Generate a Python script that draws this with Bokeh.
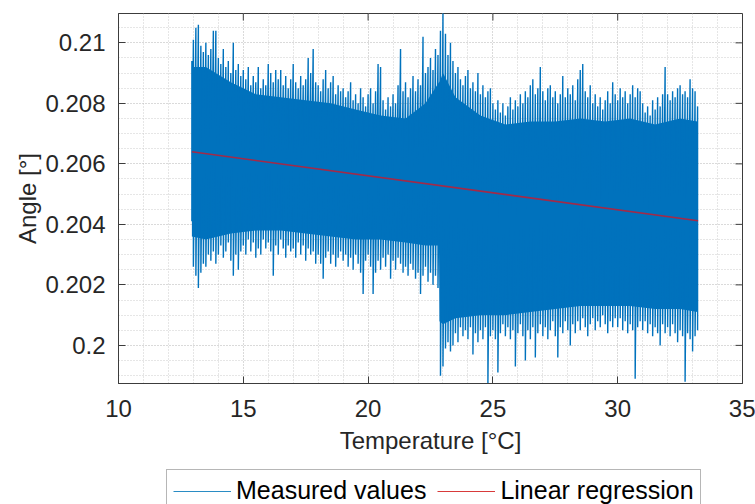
from bokeh.plotting import figure
from bokeh.layouts import column
from bokeh.models import (Range1d, Legend, LegendItem, FixedTicker,
                          NumeralTickFormatter, ColumnDataSource)
from bokeh.embed import file_html
from bokeh.resources import INLINE

# ---------------- data ----------------
temperature = [12.94,
    13.0, 13.1, 13.2, 13.3, 13.4, 13.5, 13.6, 13.7, 13.8, 13.9,
    14.0, 14.1, 14.2, 14.3, 14.4, 14.5, 14.6, 14.7, 14.8, 14.9,
    15.0, 15.1, 15.2, 15.3, 15.4, 15.5, 15.6, 15.7, 15.8, 15.9,
    16.0, 16.1, 16.2, 16.3, 16.4, 16.5, 16.6, 16.7, 16.8, 16.9,
    17.0, 17.1, 17.2, 17.3, 17.4, 17.5, 17.6, 17.7, 17.8, 17.9,
    18.0, 18.1, 18.2, 18.3, 18.4, 18.5, 18.6, 18.7, 18.8, 18.9,
    19.0, 19.1, 19.2, 19.3, 19.4, 19.5, 19.6, 19.7, 19.8, 19.9,
    20.0, 20.1, 20.2, 20.3, 20.4, 20.5, 20.6, 20.7, 20.8, 20.9,
    21.0, 21.1, 21.2, 21.3, 21.4, 21.5, 21.6, 21.7, 21.8, 21.9,
    22.0, 22.1, 22.2, 22.3, 22.4, 22.5, 22.6, 22.7, 22.8, 22.9,
    23.0, 23.1, 23.2, 23.3, 23.4, 23.5, 23.6, 23.7, 23.8, 23.9,
    24.0, 24.1, 24.2, 24.3, 24.4, 24.5, 24.6, 24.7, 24.8, 24.9,
    25.0, 25.1, 25.2, 25.3, 25.4, 25.5, 25.6, 25.7, 25.8, 25.9,
    26.0, 26.1, 26.2, 26.3, 26.4, 26.5, 26.6, 26.7, 26.8, 26.9,
    27.0, 27.1, 27.2, 27.3, 27.4, 27.5, 27.6, 27.7, 27.8, 27.9,
    28.0, 28.1, 28.2, 28.3, 28.4, 28.5, 28.6, 28.7, 28.8, 28.9,
    29.0, 29.1, 29.2, 29.3, 29.4, 29.5, 29.6, 29.7, 29.8, 29.9,
    30.0, 30.1, 30.2, 30.3, 30.4, 30.5, 30.6, 30.7, 30.8, 30.9,
    31.0, 31.1, 31.2, 31.3, 31.4, 31.5, 31.6, 31.7, 31.8, 31.9,
    32.0, 32.1, 32.2, 32.3, 32.4, 32.5, 32.6, 32.7, 32.8, 32.9,
    33.0, 33.1, 33.2]

# upper tips of the measured signal (deg)
angle_max = [0.2094,
    0.2101, 0.2105, 0.2106, 0.2099, 0.2097, 0.2100, 0.2096, 0.2098, 0.2104, 0.2104,
    0.2095, 0.2093, 0.2098, 0.2092, 0.2094, 0.2090, 0.2100, 0.2091, 0.2093, 0.2089,
    0.2091, 0.2088, 0.2092, 0.2086, 0.2089, 0.2087, 0.2092, 0.2085, 0.2088, 0.2086,
    0.2093, 0.2090, 0.2087, 0.2091, 0.2088, 0.2091, 0.2086, 0.2089, 0.2085, 0.2088,
    0.2093, 0.2087, 0.2085, 0.2089, 0.2086, 0.2088, 0.2095, 0.2090, 0.2098, 0.2087,
    0.2086, 0.2084, 0.2088, 0.2091, 0.2085, 0.2087, 0.2089, 0.2083, 0.2086, 0.2084,
    0.2085, 0.2082, 0.2084, 0.2087, 0.2081, 0.2083, 0.2080, 0.2085, 0.2082, 0.2079,
    0.2083, 0.2085, 0.2080, 0.2084, 0.2093, 0.2092, 0.2081, 0.2078, 0.2082, 0.2079,
    0.2083, 0.2080, 0.2086, 0.2098, 0.2084, 0.2087, 0.2082, 0.2085, 0.2089, 0.2084,
    0.2088, 0.2086, 0.2102, 0.2090, 0.2092, 0.2095, 0.2091, 0.2098, 0.2096, 0.2104,
    0.2110, 0.2103, 0.2096, 0.2100, 0.2094, 0.2090, 0.2092, 0.2088, 0.2086, 0.2089,
    0.2091, 0.2085, 0.2087, 0.2084, 0.2090, 0.2083, 0.2086, 0.2082, 0.2084, 0.2085,
    0.2080, 0.2078, 0.2081, 0.2077, 0.2080, 0.2076, 0.2079, 0.2082, 0.2078, 0.2081,
    0.2079, 0.2083, 0.2080, 0.2084, 0.2082, 0.2086, 0.2088, 0.2083, 0.2085, 0.2092,
    0.2084, 0.2081, 0.2085, 0.2086, 0.2082, 0.2084, 0.2080, 0.2083, 0.2089, 0.2082,
    0.2085, 0.2083, 0.2086, 0.2081, 0.2088, 0.2091, 0.2093, 0.2084, 0.2082, 0.2086,
    0.2080, 0.2083, 0.2079, 0.2082, 0.2078, 0.2081, 0.2084, 0.2080, 0.2087, 0.2083,
    0.2081, 0.2085, 0.2082, 0.2084, 0.2080, 0.2083, 0.2086, 0.2082, 0.2085, 0.2084,
    0.2080, 0.2077, 0.2079, 0.2076, 0.2081, 0.2078, 0.2082, 0.2079, 0.2083, 0.2092,
    0.2083, 0.2081, 0.2084, 0.2082, 0.2085, 0.2086, 0.2083, 0.2084, 0.2082, 0.2088,
    0.2085, 0.2084, 0.2079]

# lower tips of the measured signal (deg)
angle_min = [0.2041,
    0.2026, 0.2023, 0.2019, 0.2024, 0.2027, 0.2026, 0.2030, 0.2028, 0.2031, 0.2027,
    0.2030, 0.2033, 0.2029, 0.2031, 0.2034, 0.2028, 0.2023, 0.2030, 0.2025, 0.2031,
    0.2033, 0.2030, 0.2035, 0.2031, 0.2034, 0.2029, 0.2032, 0.2030, 0.2035, 0.2032,
    0.2034, 0.2031, 0.2023, 0.2033, 0.2030, 0.2035, 0.2032, 0.2029, 0.2033, 0.2031,
    0.2032, 0.2029, 0.2034, 0.2030, 0.2033, 0.2028, 0.2032, 0.2030, 0.2031, 0.2027,
    0.2030, 0.2027, 0.2022, 0.2029, 0.2031, 0.2027, 0.2030, 0.2026, 0.2029, 0.2031,
    0.2028, 0.2030, 0.2026, 0.2029, 0.2025, 0.2030, 0.2027, 0.2024, 0.2017, 0.2028,
    0.2030, 0.2026, 0.2017, 0.2024, 0.2028, 0.2025, 0.2029, 0.2026, 0.2030, 0.2022,
    0.2028, 0.2025, 0.2029, 0.2027, 0.2024, 0.2026, 0.2023, 0.2027, 0.2025, 0.2022,
    0.2024, 0.2017, 0.2023, 0.2026, 0.2021, 0.2024, 0.2020, 0.2023, 0.2019, 0.1990,
    0.1993, 0.1999, 0.2001, 0.1998, 0.2000, 0.2004, 0.2001, 0.2006, 0.2003, 0.2005,
    0.2002, 0.2006, 0.1997, 0.2004, 0.2001, 0.2005, 0.2002, 0.2006, 0.1987, 0.2003,
    0.2005, 0.2002, 0.1991, 0.2004, 0.2007, 0.2003, 0.2006, 0.2002, 0.2005, 0.1993,
    0.2004, 0.2007, 0.2003, 0.1995, 0.2005, 0.2002, 0.2006, 0.1996, 0.2004, 0.2007,
    0.2003, 0.2006, 0.2002, 0.2005, 0.2008, 0.2003, 0.1996, 0.2006, 0.2004, 0.2008,
    0.2005, 0.2000, 0.2007, 0.2004, 0.2008, 0.2005, 0.2009, 0.2006, 0.2003, 0.2007,
    0.2009, 0.2005, 0.2008, 0.2006, 0.2010, 0.2007, 0.2004, 0.2008, 0.2006, 0.2009,
    0.2006, 0.2009, 0.2005, 0.2008, 0.2004, 0.2007, 0.2005, 0.1989, 0.2006, 0.2008,
    0.2005, 0.2008, 0.2004, 0.2007, 0.2003, 0.2006, 0.2004, 0.2000, 0.2007, 0.2004,
    0.2006, 0.2003, 0.2007, 0.2004, 0.2001, 0.2005, 0.2003, 0.1988, 0.2004, 0.2002,
    0.1998, 0.2003, 0.2005]

# dense (solid) core of the measured signal
core_temperature = [12.94, 13.5, 14.5, 15.5, 16.5, 17.5, 18.5, 19.5, 20.5, 21.5,
                    22.3, 22.84, 22.86, 23.0, 23.5, 24.5, 25.5, 26.5, 27.5, 28.5,
                    29.5, 30.5, 31.5, 32.5, 33.2]
core_top = [0.2092, 0.2092, 0.2087, 0.2083, 0.2082, 0.2081, 0.2080, 0.2078, 0.2076,
            0.2075, 0.2080, 0.2087, 0.2087, 0.2090, 0.2082, 0.2076, 0.2073, 0.2074,
            0.2074, 0.2075, 0.2074, 0.2075, 0.2073, 0.2075, 0.2074]
core_bottom = [0.2036, 0.2035, 0.2037, 0.2038, 0.2038, 0.2037, 0.2036, 0.2035, 0.2035,
               0.2034, 0.2033, 0.2033, 0.2008, 0.2007, 0.2009, 0.2010, 0.2010, 0.2011,
               0.2012, 0.2013, 0.2013, 0.2013, 0.2012, 0.2012, 0.2011]

reg_temperature = [12.94, 33.22]
reg_angle = [0.20640, 0.20412]

x_major = [10, 15, 20, 25, 30, 35]
x_minor = [11, 12, 13, 14, 16, 17, 18, 19, 21, 22, 23, 24,
           26, 27, 28, 29, 31, 32, 33, 34]
y_major = [0.200, 0.202, 0.204, 0.206, 0.208, 0.210]
y_minor = [0.1990, 0.1995, 0.2005, 0.2010, 0.2015, 0.2025, 0.2030, 0.2035,
           0.2045, 0.2050, 0.2055, 0.2065, 0.2070, 0.2075, 0.2085, 0.2090,
           0.2095, 0.2105]
x_lim = (10, 35)
y_lim = (0.19874, 0.21097)

x_title = "Temperature [°C]"
y_title = "Angle [°]"
series_names = ["Measured values", "Linear regression"]

# ---------------- build ----------------
zz_x, zz_y = [], []
for t, hi, lo in zip(temperature, angle_max, angle_min):
    zz_x += [t, t]
    zz_y += [hi, lo]

FONT = "Liberation Sans"
TXT = "#262626"
AX = "#3c3c3c"
BLUE = "#0072BD"
RED = "#A32A48"

FRAME_W, FRAME_H = 624, 370
p = figure(width=755, height=463, output_backend="svg", toolbar_location=None,
           x_range=Range1d(*x_lim), y_range=Range1d(*y_lim),
           min_border_left=118, min_border_right=13, min_border_top=13,
           min_border_bottom=80)
p.background_fill_color = "white"
p.border_fill_color = "white"
p.outline_line_color = AX
p.outline_line_width = 1

xt = FixedTicker(ticks=x_major, minor_ticks=x_minor)
yt = FixedTicker(ticks=y_major, minor_ticks=y_minor)

xa = p.xaxis[0]
ya = p.yaxis[0]
xa.ticker = xt
ya.ticker = yt
p.xgrid[0].ticker = xt
p.ygrid[0].ticker = yt
ya.formatter = NumeralTickFormatter(format="0.[000]")

for ax in (xa, ya):
    ax.axis_line_color = AX
    ax.major_tick_in = 7
    ax.major_tick_out = 0
    ax.major_tick_line_color = AX
    ax.minor_tick_line_color = None
    ax.major_label_text_font = FONT
    ax.major_label_text_font_size = "24px"
    ax.major_label_text_color = TXT
    ax.axis_label_text_font = FONT
    ax.axis_label_text_font_size = "24px"
    ax.axis_label_text_font_style = "normal"
    ax.axis_label_text_color = TXT
xa.axis_label = x_title
ya.axis_label = y_title
xa.major_label_standoff = 12
xa.axis_label_standoff = 7
ya.major_label_standoff = 9
ya.axis_label_standoff = 1

for g in (p.xgrid[0], p.ygrid[0]):
    g.grid_line_color = "#b4b4b4"
    g.grid_line_dash = "1 2"
    g.grid_line_width = 1
    g.minor_grid_line_color = "#cdcdcd"
    g.minor_grid_line_dash = "1 2"
    g.minor_grid_line_width = 1

# inward tick marks on the top and right edges of the box (7 px long)
ty = (y_lim[1] - y_lim[0]) * 7 / FRAME_H
tx = (x_lim[1] - x_lim[0]) * 7 / FRAME_W
p.segment(x0=x_major, y0=[y_lim[1]] * len(x_major), x1=x_major,
          y1=[y_lim[1] - ty] * len(x_major), line_color=AX, line_width=1)
p.segment(x0=[x_lim[1]] * len(y_major), y0=y_major, x1=[x_lim[1] - tx] * len(y_major),
          y1=y_major, line_color=AX, line_width=1)

p.varea(x=core_temperature, y1=core_bottom, y2=core_top, fill_color=BLUE)
src = ColumnDataSource(dict(x=zz_x, y=zz_y))
p.line("x", "y", source=src, line_color=BLUE, line_width=1.4)
p.line(reg_temperature, reg_angle, line_color=RED, line_width=1.6)

# ---------------- legend strip under the axes ----------------
# (its frame is aligned with the main frame by the column layout; the
#  key renderers hold the regression points, which lie outside its 0..1 view)
q = figure(width=755, height=41, output_backend="svg", toolbar_location=None,
           x_range=Range1d(0, 1), y_range=Range1d(0, 1),
           x_axis_location=None, y_axis_location=None,
           min_border_left=0, min_border_right=0, min_border_top=0,
           min_border_bottom=0)
q.grid.visible = False
q.outline_line_color = None
q.background_fill_color = "white"
q.border_fill_color = "white"
k1 = q.line(x=reg_temperature, y=reg_angle, line_color="#2a8cc4", line_width=1.2)
k2 = q.line(x=reg_temperature, y=reg_angle, line_color="#D83A3A", line_width=1.2)
legend = Legend(items=[LegendItem(label=series_names[0], renderers=[k1]),
                       LegendItem(label=series_names[1], renderers=[k2])],
                orientation="horizontal", location=(48, -8),
                label_text_font=FONT, label_text_font_size="25px",
                label_text_color="black",
                glyph_width=58, glyph_height=20, label_standoff=5, spacing=11,
                padding=6, margin=0, border_line_color="#6e6e6e",
                background_fill_color="white", background_fill_alpha=1)
q.add_layout(legend)

layout = column(p, q, spacing=0)
open("out.html", "w").write(file_html(layout, INLINE))
